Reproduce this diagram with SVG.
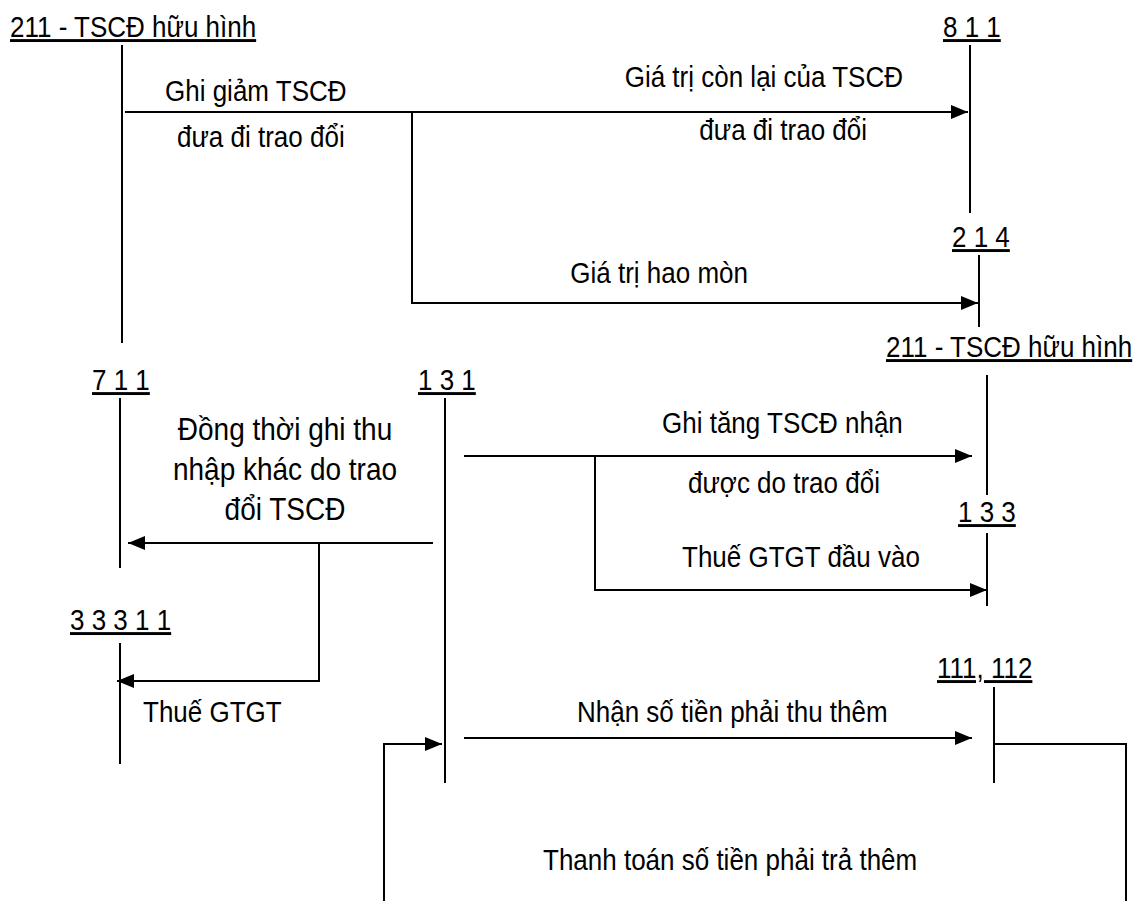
<svg xmlns="http://www.w3.org/2000/svg" width="1142" height="901" viewBox="0 0 1142 901">
<style>
text{font-family:"Liberation Sans",Arial,sans-serif;font-size:26px;fill:#000}
.t{text-decoration:underline}
.big{font-size:28px}
.e{text-anchor:end}
.m{text-anchor:middle}
.acc{stroke:#000;stroke-width:2;fill:none}
.c{stroke:#000;stroke-width:2;fill:none}
.a{marker-end:url(#ah)}
</style>
<defs>
<marker id="ah" markerUnits="userSpaceOnUse" markerWidth="18" markerHeight="14" refX="17" refY="7" orient="auto">
<path d="M0,0 L17,7 L0,14 z" fill="#000"/>
</marker>
</defs>
<rect width="1142" height="901" fill="#fff"/>
<g id="acc-211-left"><text class="t" transform="matrix(1,0,0,1.12,10,37)">211 - TSCĐ hữu hình</text><line class="acc" x1="122" y1="45" x2="122" y2="343"/></g>
<g id="acc-811"><text class="t" transform="matrix(1,0,0,1.12,943,37)">8 1 1</text><line class="acc" x1="970" y1="45" x2="970" y2="213"/></g>
<g id="acc-214"><text class="t" transform="matrix(1,0,0,1.12,952,247)">2 1 4</text><line class="acc" x1="979" y1="255" x2="979" y2="327"/></g>
<g id="acc-211-right"><text class="t" transform="matrix(1,0,0,1.12,886,357)">211 - TSCĐ hữu hình</text><line class="acc" x1="987" y1="375" x2="987" y2="495"/></g>
<g id="acc-711"><text class="t" transform="matrix(1,0,0,1.12,92,390)">7 1 1</text><line class="acc" x1="120" y1="398" x2="120" y2="568"/></g>
<g id="acc-131"><text class="t" transform="matrix(1,0,0,1.12,418,390)">1 3 1</text><line class="acc" x1="445" y1="398" x2="445" y2="783"/></g>
<g id="acc-133"><text class="t" transform="matrix(1,0,0,1.12,958,522)">1 3 3</text><line class="acc" x1="987" y1="533" x2="987" y2="606"/></g>
<g id="acc-33311"><text class="t" transform="matrix(1,0,0,1.12,70,630)">3 3 3 1 1</text><line class="acc" x1="120" y1="643" x2="120" y2="764"/></g>
<g id="acc-111-112"><text class="t" transform="matrix(1,0,0,1.12,937,678)">111, 112</text><line class="acc" x1="994" y1="687" x2="994" y2="783"/></g>
<g id="connectors">
<path class="c a" d="M125,112 H968"/>
<path class="c a" d="M412,112 V303 H978"/>
<path class="c a" d="M433,543 H128"/>
<path class="c a" d="M319,543 V681 H117"/>
<path class="c a" d="M464,456 H972"/>
<path class="c a" d="M595,456 V590 H987"/>
<path class="c a" d="M464,738 H972"/>
<path class="c" d="M994,744 H1126 V901"/>
<path class="c a" d="M384,901 V744 H442"/>
</g>
<g id="labels">
<text transform="matrix(1,0,0,1.12,165,101)">Ghi giảm TSCĐ</text>
<text transform="matrix(1,0,0,1.12,177,147)">đưa đi trao đổi</text>
<text class="e" transform="matrix(1,0,0,1.12,903,87)">Giá trị còn lại của TSCĐ</text>
<text class="e" transform="matrix(1,0,0,1.12,867,140)">đưa đi trao đổi</text>
<text class="e" transform="matrix(1,0,0,1.12,748,283)">Giá trị hao mòn</text>
<text class="big m" transform="matrix(1,0,0,1.12,285,440)">Đồng thời ghi thu</text>
<text class="big m" transform="matrix(1,0,0,1.12,285,480)">nhập khác do trao</text>
<text class="big m" transform="matrix(1,0,0,1.12,285,520)">đổi TSCĐ</text>
<text transform="matrix(1,0,0,1.12,662,433)">Ghi tăng TSCĐ nhận</text>
<text transform="matrix(1,0,0,1.12,688,493)">được do trao đổi</text>
<text transform="matrix(1,0,0,1.12,682,567)">Thuế GTGT đầu vào</text>
<text transform="matrix(1,0,0,1.12,143,722)">Thuế GTGT</text>
<text transform="matrix(1,0,0,1.12,577,722)">Nhận số tiền phải thu thêm</text>
<text transform="matrix(1,0,0,1.12,543,870)">Thanh toán số tiền phải trả thêm</text>
</g>
</svg>
